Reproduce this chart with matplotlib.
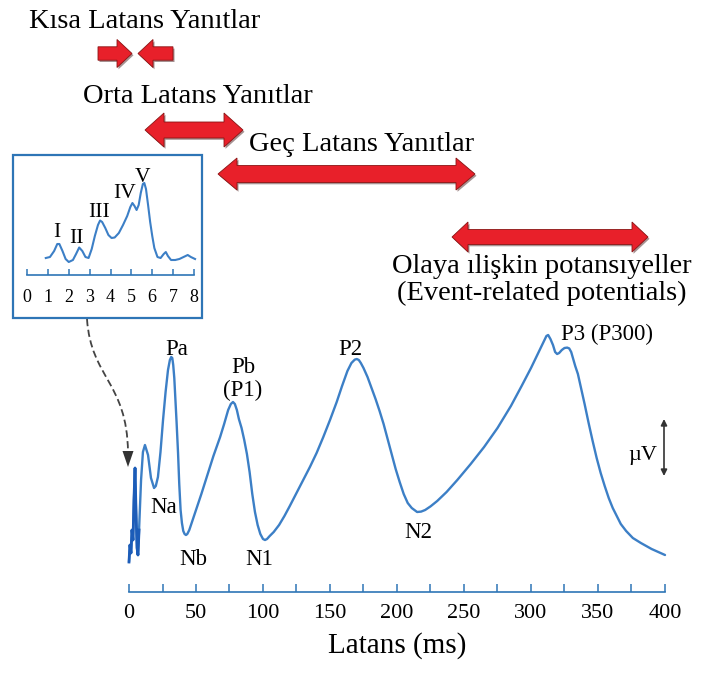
import matplotlib
matplotlib.use("Agg")
import matplotlib.pyplot as plt
from matplotlib.patches import Polygon, Rectangle, PathPatch
from matplotlib.path import Path

plt.rcParams["font.family"] = ["Liberation Serif", "DejaVu Serif"]

# ---------------- data ----------------
# Full evoked-potential trace: latency (ms) and amplitude (µV, arbitrary scale)
latency_ms = [0.0, 0.7, 1.5, 2.2, 3.0, 3.7, 4.5, 5.2, 6.0, 6.7, 7.5, 9.0, 10.4, 11.9,
              14.2, 16.4, 18.7, 20.0, 21.6, 23.5, 25.4, 27.3, 29.1, 30.5, 31.5,
              32.3, 33.0, 33.8, 34.6, 35.5, 36.6, 37.5, 38.5, 39.5, 40.5, 41.5,
              42.5, 43.5, 45.0, 47.0, 50.0, 54.0, 58.0, 63.0, 68.0, 71.0, 74.0,
              76.0, 77.6, 79.0, 80.5, 82.0, 84.0, 86.0, 88.0, 90.0, 92.0, 94.0,
              96.0, 98.0, 100.0, 101.5, 103.0, 105.0, 108.0, 112.0, 116.0, 120.0,
              125.0, 130.0, 135.0, 140.0, 145.0, 150.0, 155.0, 159.0, 163.0,
              166.0, 168.5, 170.0, 171.5, 173.0, 175.0, 178.0, 181.0, 184.0,
              187.0, 190.0, 193.0, 196.0, 199.0, 202.0, 205.0, 208.0, 211.0,
              215.0, 218.0, 221.0, 225.0, 230.0, 237.0, 245.0, 255.0, 265.0,
              275.0, 285.0, 293.0, 300.0, 305.0, 309.0, 311.5, 312.8, 314.5,
              316.4, 318.0, 319.5, 321.0, 323.0, 325.0, 327.0, 328.5, 330.0,
              331.5, 333.0, 335.0, 337.0, 340.0, 343.0, 346.0, 349.0, 352.0,
              355.0, 358.0, 361.0, 364.0, 367.0, 371.0, 376.0, 382.0, 390.0, 400.0]
amplitude_uv = [-0.1, 0.75, 0.35, 1.5, 1.0, 3.0, 4.6, 2.5, 0.6, 0.25, 1.5, 4.0, 5.4, 5.75,
                5.25, 4.1, 3.6, 3.7, 4.15, 5.4, 7.0, 8.4, 9.5, 10.0, 10.15,
                10.1, 9.75, 9.1, 8.1, 6.9, 5.35, 3.8, 2.5, 1.85, 1.45, 1.3,
                1.25, 1.3, 1.5, 1.9, 2.5, 3.3, 4.15, 5.2, 6.15, 6.8, 7.5,
                7.8, 7.9, 7.8, 7.5, 7.05, 6.6, 6.0, 5.3, 4.4, 3.3, 2.4,
                1.75, 1.3, 1.05, 1.0, 1.05, 1.2, 1.4, 1.75, 2.2, 2.7,
                3.35, 4.0, 4.65, 5.35, 6.15, 7.0, 7.9, 8.7, 9.45,
                9.85, 10.02, 10.05, 10.0, 9.85, 9.6, 9.15, 8.6, 8.05,
                7.45, 6.8, 6.05, 5.3, 4.55, 3.9, 3.3, 2.85, 2.6,
                2.4, 2.42, 2.5, 2.68, 2.95, 3.4, 4.0, 4.8, 5.65,
                6.6, 7.7, 8.7, 9.6, 10.3, 10.85, 11.2, 11.25, 11.05,
                10.75, 10.4, 10.3, 10.35, 10.5, 10.6, 10.62, 10.58, 10.4,
                10.05, 9.7, 9.3, 8.7, 7.8, 6.85, 5.95, 5.1, 4.35,
                3.7, 3.1, 2.6, 2.2, 1.8, 1.45, 1.1, 0.85, 0.55, 0.25]

# Brainstem response (ABR) detail, 0-8 ms
abr_ms = [0.9, 1.1, 1.3, 1.45, 1.55, 1.7, 1.85, 2.0, 2.2, 2.35, 2.5, 2.65, 2.8, 2.95,
          3.1, 3.25, 3.4, 3.5, 3.6, 3.75, 3.9, 4.05, 4.2, 4.4, 4.6, 4.8, 4.95, 5.05,
          5.15, 5.25, 5.35, 5.45, 5.55, 5.62, 5.7, 5.8, 5.9, 6.0, 6.1, 6.25, 6.4,
          6.55, 6.65, 6.75, 6.9, 7.1, 7.3, 7.5, 7.7, 7.85, 8.05]
abr_uv = [1.7, 1.8, 2.4, 3.1, 3.1, 2.4, 1.6, 1.3, 1.5, 2.1, 2.75, 2.4, 1.8, 1.7,
          2.6, 3.9, 5.0, 5.45, 5.3, 4.7, 4.0, 3.7, 3.75, 4.2, 5.0, 5.9, 6.8, 7.2,
          6.9, 6.5, 7.0, 8.2, 9.1, 9.2, 8.6, 7.0, 5.3, 3.9, 2.7, 1.8, 1.7,
          2.1, 2.3, 1.9, 1.5, 1.5, 1.6, 1.8, 2.0, 1.8, 1.6]

main_ticks = [0, 50, 100, 150, 200, 250, 300, 350, 400]
main_minor_ticks = [25, 75, 125, 175, 225, 275, 325, 375]
abr_ticks = [0, 1, 2, 3, 4, 5, 6, 7, 8]

wave_names = ["I", "II", "III", "IV", "V"]
main_peak_names = ["Pa", "Pb", "(P1)", "Na", "Nb", "N1", "P2", "N2", "P3 (P300)"]

# ---------------- styling ----------------
BLUE = "#2e75b6"
LINE = "#3c7fc6"
DARK_LINE = "#1c5cb8"
RED = "#e8202a"

W, H = 703, 673
fig = plt.figure(figsize=(W / 100, H / 100), dpi=100)


def fx(px):
    return px / W


def fy(py):
    return 1 - py / H


# ---------------- main trace ----------------
ax = fig.add_axes([fx(129), fy(592), (665 - 129) / W, (592 - 320) / H])
ax.patch.set_visible(False)
ax.set_xlim(0, 400)
ax.set_ylim(-1.6, 12.0)
ax.plot(latency_ms, amplitude_uv, color=LINE, lw=1.7, clip_on=False,
        solid_joinstyle="round", solid_capstyle="round")
n_early = sum(1 for t in latency_ms if t <= 8.0)
ax.plot(latency_ms[:n_early], amplitude_uv[:n_early], color=DARK_LINE, lw=2.0,
        clip_on=False, solid_joinstyle="round")
for side in ("top", "right", "left"):
    ax.spines[side].set_visible(False)
ax.spines["bottom"].set_color(BLUE)
ax.spines["bottom"].set_linewidth(1.2)
ax.set_yticks([])
ax.set_xticks(main_ticks)
ax.set_xticks(main_minor_ticks, minor=True)
ax.tick_params(axis="x", which="both", direction="in", length=5.5, width=1.1,
               color=BLUE, labelsize=16, pad=9)
ax.set_xlabel("Latans (ms)", fontsize=21, labelpad=6)

# ---------------- ABR inset ----------------
ins = fig.add_axes([fx(27), fy(275), (194 - 27) / W, 105 / H])
ins.patch.set_visible(False)
ins.set_xlim(0, 8)
ins.set_ylim(0, 10.5)
ins.plot(abr_ms, abr_uv, color=LINE, lw=1.5, clip_on=False,
         solid_joinstyle="round")
for side in ("top", "right", "left"):
    ins.spines[side].set_visible(False)
ins.spines["bottom"].set_color(BLUE)
ins.spines["bottom"].set_linewidth(1.2)
ins.set_yticks([])
ins.set_xticks(abr_ticks)
ins.tick_params(axis="x", direction="in", length=4.5, width=1.1, color=BLUE,
                labelsize=13, pad=10)

# ---------------- annotation layer (pixel coordinates) ----------------
ov = fig.add_axes([0, 0, 1, 1])
ov.set_xlim(0, W)
ov.set_ylim(H, 0)
ov.axis("off")
ov.patch.set_visible(False)


def block_arrow(x0, x1, yc, shaft, head, head_len, left=True, right=True):
    pts = []
    if left:
        pts += [(x0, yc), (x0 + head_len, yc - head), (x0 + head_len, yc - shaft)]
    else:
        pts += [(x0, yc - shaft)]
    if right:
        pts += [(x1 - head_len, yc - shaft), (x1 - head_len, yc - head), (x1, yc),
                (x1 - head_len, yc + head), (x1 - head_len, yc + shaft)]
    else:
        pts += [(x1, yc - shaft), (x1, yc + shaft)]
    if left:
        pts += [(x0 + head_len, yc + shaft), (x0 + head_len, yc + head)]
    else:
        pts += [(x0, yc + shaft)]
    shadow = [(x + 1.5, y + 1.8) for x, y in pts]
    ov.add_patch(Polygon(shadow, closed=True, facecolor="#3a0f0f", alpha=0.45,
                         edgecolor="none"))
    ov.add_patch(Polygon(pts, closed=True, facecolor=RED, edgecolor="#8a1414",
                         lw=0.6, joinstyle="miter"))


# latency-range arrows
block_arrow(98, 132, 53.5, 6.7, 14, 15, left=False, right=True)
block_arrow(138, 173, 53.5, 6.7, 14, 15, left=True, right=False)
block_arrow(145, 243, 130, 8, 17, 19)
block_arrow(218, 475, 174, 8.5, 16, 19)
block_arrow(452, 648, 237, 7.5, 15, 16)

ov.text(145, 28, "Kısa Latans Yanıtlar", ha="center", va="baseline", fontsize=20.5)
ov.text(197.5, 103, "Orta Latans Yanıtlar", ha="center", va="baseline", fontsize=20.5)
ov.text(362, 151, "Geç Latans Yanıtlar", ha="center", va="baseline", fontsize=20.5)
ov.text(542, 273, "Olaya ılişkin potansıyeller", ha="center", va="baseline",
        fontsize=20.5)
ov.text(542, 300, "(Event-related potentials)", ha="center", va="baseline",
        fontsize=20.5)

# inset frame
ov.add_patch(Rectangle((12.5, 155), 189.5, 163, facecolor="none", edgecolor=BLUE,
                       lw=1.6))

# ABR wave labels
wave_pos = [(57, 237), (76.5, 243), (99.5, 217), (125, 198), (142.5, 182)]
for name, (x, y) in zip(wave_names, wave_pos):
    ov.text(x, y, name, ha="center", va="baseline", fontsize=15.5)

# main component labels
peak_pos = [(177, 355), (243, 373), (243, 396), (164, 513), (193, 565), (259, 565),
            (350, 355), (418, 538), (607, 340)]
for name, (x, y) in zip(main_peak_names, peak_pos):
    ov.text(x, y, name, ha="center", va="baseline", fontsize=16.5)

# amplitude indicator
ov.annotate("", xy=(664, 419), xytext=(664, 476),
            arrowprops=dict(arrowstyle="<|-|>", color="#333333", lw=1.2,
                            mutation_scale=9, shrinkA=0, shrinkB=0))
ov.text(643, 460, "µV", ha="center", va="baseline", fontsize=16)

# dashed link from inset to the early trace
link = Path([(87, 319), (91, 378), (127, 382), (128, 452)],
            [Path.MOVETO, Path.CURVE4, Path.CURVE4, Path.CURVE4])
ov.add_patch(PathPatch(link, facecolor="none", edgecolor="#444444", lw=1.3,
                       linestyle=(0, (4, 2))))
ov.add_patch(Polygon([(122.5, 451), (133.5, 451), (128, 467)], closed=True,
                     facecolor="#333333", edgecolor="none"))

fig.savefig("out.png", dpi=100)
